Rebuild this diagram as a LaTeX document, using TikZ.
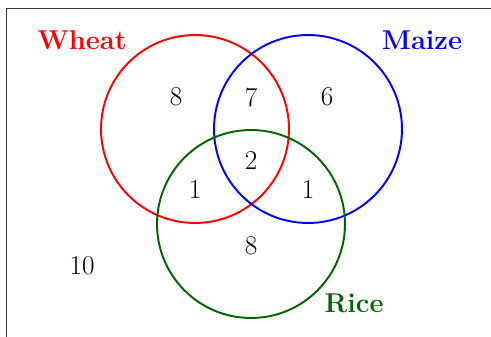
\documentclass[tikz,border=0pt]{standalone}
\usetikzlibrary{positioning}
\definecolor{cdgreen}{RGB}{0,100,0}
\tikzset{
  every picture/.style={line width=1.1pt},
  set/.style={draw=#1, circle, minimum size=3.76cm, inner sep=0pt},
  set/.default=black,
  setname/.style={font=\fontsize{15.5}{18}\selectfont\bfseries, text=#1},
  count/.style={font=\fontsize{15.5}{18}\selectfont},
}
\begin{document}
\begin{tikzpicture}[x=0.02cm, y=-0.02cm]
  \useasboundingbox (0,0) rectangle (491,336);
  % frame, cut off at right and bottom
  \draw[line width=0.5pt, black!80] (6,8) rectangle (520,360);
  % the three sets
  \node[set=red] (wheat) at (195,129) {};
  \node[set=blue] (maize) at (308,129) {};
  \node[set=cdgreen] (rice) at (251,224) {};
  \node[setname=red] (wheatlbl) at (82,40) {Wheat};
  \node[setname=blue] (maizelbl) at (422,40) {Maize};
  \node[setname=cdgreen] (ricelbl) at (354,303) {Rice};
  % counts
  \node[count] (w) at (176,97) {8};
  \node[count] (wm) at (251,97) {7};
  \node[count] (m) at (327,97) {6};
  \node[count] (wmr) at (251,160) {2};
  \node[count] (wr) at (195,189) {1};
  \node[count] (mr) at (308,189) {1};
  \node[count] (r) at (251,246) {8};
  \node[count] (none) at (82,266) {10};
\end{tikzpicture}
\end{document}
